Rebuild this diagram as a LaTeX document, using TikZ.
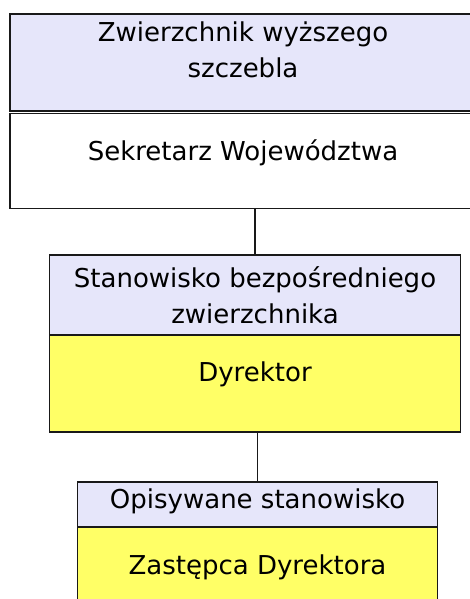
\documentclass[tikz,border=0pt]{standalone}
\usepackage{fontspec}
\setmainfont{DejaVu Sans}
\usetikzlibrary{positioning}

\definecolor{headfill}{RGB}{230,230,250}
\definecolor{bodyfill}{RGB}{255,255,102}

\tikzset{
  box/.style={draw=black!90, line width=1.1pt, inner sep=0pt, outer sep=0pt},
  headbox/.style={box, fill=headfill},
  bodybox/.style={box, fill=bodyfill},
  plainbox/.style={box, fill=white},
  boxtext/.style={align=center, inner sep=0pt, font=\fontsize{26}{36}\selectfont},
  link/.style={draw=black!90, line width=1.1pt}
}

\begin{document}
\begin{tikzpicture}[x=1pt,y=-1pt]
    \useasboundingbox (0,0) rectangle (470,599);
    % zwierzchnik wyzszego szczebla
    \node[headbox, minimum width=466pt, minimum height=97pt] (zwHead) at (243,62.5) {};
    \node[plainbox, minimum width=466pt, minimum height=95pt, below=2.8pt of zwHead] (zwBody) {};
    % bezposredni zwierzchnik
    \node[headbox, minimum width=411pt, minimum height=80pt] (dyrHead) at (255,295) {};
    \node[bodybox, minimum width=411pt, minimum height=97pt, below=0pt of dyrHead] (dyrBody) {};
    % opisywane stanowisko
    \node[headbox, minimum width=360pt, minimum height=45pt] (zasHead) at (257.5,504.5) {};
    \node[bodybox, minimum width=360pt, minimum height=95pt, below=0pt of zasHead] (zasBody) {};
    % teksty
    \node[boxtext, below=8pt of zwHead.north] (zwText) {Zwierzchnik wyższego\\szczebla};
    \node[boxtext, below=26pt of zwBody.north] (sekText) {Sekretarz Województwa};
    \node[boxtext, below=11pt of dyrHead.north] (stanText) {Stanowisko bezpośredniego\\zwierzchnika};
    \node[boxtext, below=27pt of dyrBody.north] (dyrText) {Dyrektor};
    \node[boxtext, below=7pt of zasHead.north] (opisText) {Opisywane stanowisko};
    \node[boxtext, below=28pt of zasBody.north] (zasText) {Zastępca Dyrektora};
    % polaczenia
    \draw[link] (zwBody.south -| dyrHead.north) -- (dyrHead.north);
    \draw[link] (dyrBody.south -| zasHead.north) -- (zasHead.north);
\end{tikzpicture}
\end{document}
